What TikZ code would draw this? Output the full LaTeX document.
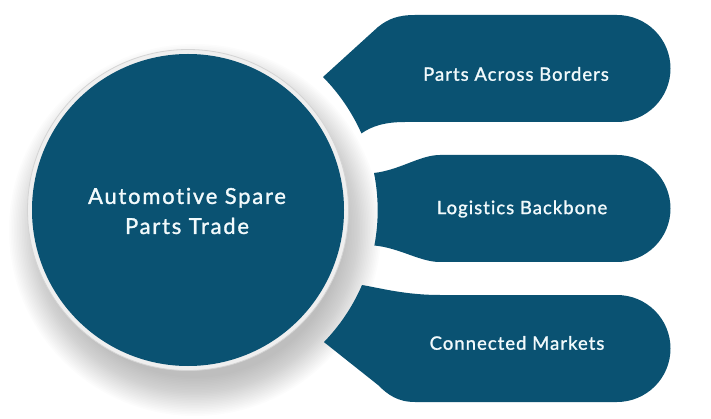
\documentclass[tikz,border=0pt]{standalone}
\usepackage{fontspec}
\setmainfont{Lato}[FakeBold=1.3, Ligatures=NoCommon]
\newfontfamily\boxfont{Lato}[FakeBold=1.3, LetterSpace=5.5, Ligatures=NoCommon]
\newfontfamily\hubfont{Lato}[FakeBold=1.3, LetterSpace=8, Ligatures=NoCommon]
\definecolor{teal}{HTML}{0A5272}
\definecolor{ringc}{HTML}{EFEFEF}
\definecolor{ringedge}{HTML}{D4D4D4}
\definecolor{txt}{HTML}{F2FAFC}
\tikzset{
  callout/.style={fill=teal},
  lbl/.style={text=txt, font=\boxfont\fontsize{18.5}{22}\selectfont, inner sep=0pt},
  hublbl/.style={text=txt, font=\hubfont\fontsize{22}{30}\selectfont, align=center, inner sep=0pt},
}
\begin{document}
\begin{tikzpicture}[x=1pt,y=-1pt]
\useasboundingbox (0,0) rectangle (711,419);
% shadow
\foreach \r in {0,...,24}{
  \fill[black,opacity=0.011] (195,230) circle ({186-\r*1.6});
}
% ring and hub
\fill[ringc, draw=ringedge, line width=0.8pt] (188,210) circle (160.5);
\node[circle, fill=teal, minimum size=312pt, inner sep=0pt] (hub) at (188,210) {};
\node[hublbl] (hubtext) at (187,211) {Automotive Spare\\Parts Trade};
% callout 1
\fill[callout] (323,77) arc[start angle=-44.6, end angle=-23.9, radius=190]
  .. controls (372,126) and (385,122) .. (405,122) -- (617,122)
  arc[start angle=90, end angle=-90, radius=53.5]
  -- (415,15) .. controls (398,15) and (388,19) .. (378,27) -- cycle;
\node[lbl] (c1) at (516,74) {Parts Across Borders};
% callout 2
\fill[callout] (374,173) arc[start angle=-11.3, end angle=10.7, radius=190]
  .. controls (400,248) and (420,262) .. (440,262) -- (617,262)
  arc[start angle=90, end angle=-90, radius=53.5]
  -- (440,155) .. controls (420,155) and (400,170) .. cycle;
\node[lbl] (c2) at (522,209) {Logistics Backbone};
% callout 3
\fill[callout] (362,285) arc[start angle=23.3, end angle=44.1, radius=190]
  -- (378,385) .. controls (388,395) and (398,402) .. (415,402) -- (617,402)
  arc[start angle=90, end angle=-90, radius=53.5]
  -- (440,295) .. controls (405,295) and (380,288) .. cycle;
\node[lbl] (c3) at (517,343) {Connected Markets};
\end{tikzpicture}
\end{document}
